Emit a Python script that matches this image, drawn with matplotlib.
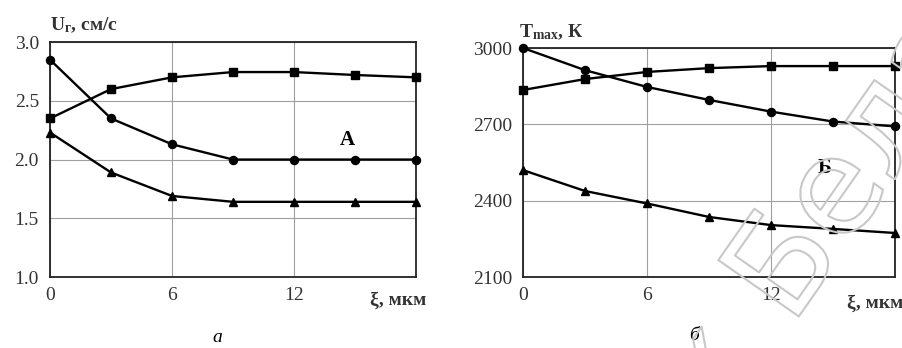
import matplotlib.pyplot as plt
import matplotlib.patheffects as pe

plt.rcParams['font.family'] = ['Liberation Serif', 'DejaVu Serif']
plt.rcParams['mathtext.fontset'] = 'custom'
plt.rcParams['mathtext.rm'] = 'Liberation Serif'
plt.rcParams['mathtext.bf'] = 'Liberation Serif:bold'

# толщина слоя, мкм
xi = [0, 3, 6, 9, 12, 15, 18]

# панель а: скорость горения, см/с
u_sq = [2.35, 2.60, 2.70, 2.745, 2.745, 2.72, 2.70]
u_ci = [2.85, 2.35, 2.13, 2.00, 2.00, 2.00, 2.00]
u_tr = [2.23, 1.89, 1.69, 1.64, 1.64, 1.64, 1.64]

# панель б: максимальная температура, К
t_sq = [2835, 2878, 2906, 2921, 2929, 2929, 2929]
t_ci = [3000, 2913, 2847, 2796, 2750, 2711, 2692]
t_tr = [2520, 2438, 2389, 2336, 2304, 2289, 2273]

fig = plt.figure(figsize=(9.03, 3.48), dpi=100)
ax1 = fig.add_axes([0.0554, 0.204, 0.4053, 0.675])
ax2 = fig.add_axes([0.5792, 0.204, 0.412, 0.658])

series = [
    (ax1, [u_sq, u_ci, u_tr], (1.0, 3.0), [1.0, 1.5, 2.0, 2.5, 3.0], '{:.1f}'),
    (ax2, [t_sq, t_ci, t_tr], (2100, 3000), [2100, 2400, 2700, 3000], '{:.0f}'),
]
markers = ['s', 'o', '^']

for ax, ys, ylim, yticks, fmt in series:
    for y, m in zip(ys, markers):
        ax.plot(xi, y, color='black', lw=1.7, marker=m, ms=5.8, clip_on=False, zorder=3)
    ax.set_xlim(0, 18)
    ax.set_ylim(*ylim)
    ax.set_xticks([0, 6, 12])
    ax.set_yticks(yticks)
    ax.set_yticklabels([fmt.format(v) for v in yticks], family='Liberation Serif')
    ax.set_xticklabels(['0', '6', '12'], family='Liberation Serif')
    ax.grid(True, color='#a0a0a0', lw=0.8)
    ax.tick_params(length=0, labelsize=14, labelcolor='#333333')
    ax.tick_params(axis='y', pad=8)
    ax.tick_params(axis='x', pad=7)
    for s in ax.spines.values():
        s.set_linewidth(1.3)
        s.set_color('#222222')

# подписи осей
fig.text(50 / 903, 1 - 25 / 348, r'$\mathbf{U_{г}}$' + ', см/с', fontsize=14, fontweight='bold',
         ha='left', va='center', color='#333333')
fig.text(426 / 903, 1 - 300 / 348, 'ξ, мкм', fontsize=14, fontweight='bold',
         ha='right', va='center', color='#333333')
fig.text(519 / 903, 1 - 32 / 348, r'$\mathbf{T_{max}}$' + ', К', fontsize=14, fontweight='bold',
         ha='left', va='center', color='#333333')
fig.text(903 / 903, 1 - 303 / 348, 'ξ, мкм', fontsize=14, fontweight='bold',
         ha='right', va='center', color='#333333')

ax1.text(14.6, 2.17, 'А', fontsize=15, fontweight='bold', ha='center', va='center')
ax2.text(14.6, 2528, 'Б', fontsize=15, fontweight='bold', ha='center', va='center')

fig.text(217 / 903, 1 - 338 / 348, 'а', fontsize=14, style='italic', ha='center', va='center')
fig.text(694 / 903, 1 - 336 / 348, 'б', fontsize=14, style='italic', ha='center', va='center')

# водяной знак (только контур)
wm = fig.text(720 / 903, 1 - 429 / 348, 'к Бела', fontsize=97, family='DejaVu Sans',
              rotation=55, rotation_mode='anchor', ha='left', va='baseline',
              color=(1, 1, 1, 0), zorder=10)
wm.set_path_effects([pe.Stroke(linewidth=1.5, foreground='#c8c8c8')])

fig.savefig('out.png', dpi=100)
